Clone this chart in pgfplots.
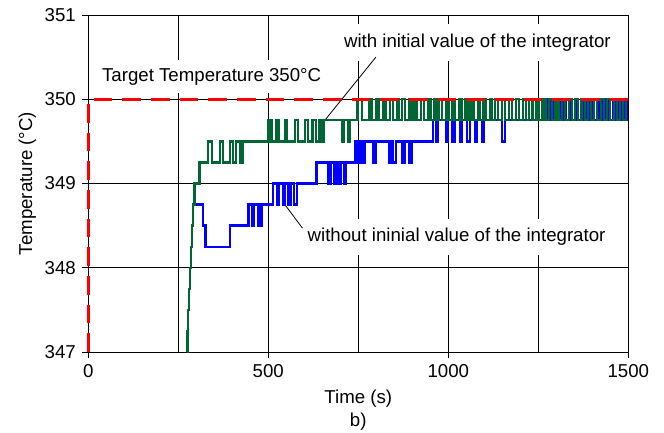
\documentclass[border=0pt]{standalone}
\usepackage{fontspec}
\setmainfont{Liberation Sans}
\usepackage{pgfplots}
\pgfplotsset{compat=1.18}
\definecolor{dgreen}{RGB}{0,102,51}
\definecolor{dblue}{RGB}{0,0,255}
\begin{document}
\fontsize{14}{16.8}\selectfont
\begin{tikzpicture}
\useasboundingbox (-66.2pt,-60pt) rectangle (431.8pt,264pt);
\begin{axis}[
 scale only axis, width=405pt, height=252.75pt,
 xmin=0,xmax=1500,ymin=347,ymax=351,
 xtick={0,500,1000,1500}, minor xtick={250,750,1250},
 ytick={347,348,349,350,351},
 grid=both,
 major grid style={black, line width=0.6pt},
 minor grid style={black, line width=0.6pt},
 axis line style={black, line width=0.6pt},
 tick align=outside, xtick pos=bottom, ytick pos=left,
 major tick length=4.5pt, minor tick length=0pt,
 tick style={black, line width=0.6pt},
 /pgf/number format/assume math mode=true,
 /pgf/number format/1000 sep={},
 tick label style={font=\fontsize{14}{16.8}\selectfont},
 label style={font=\fontsize{14}{16.8}\selectfont},
 xlabel={Time (s)\\b)}, xlabel style={align=center},
 ylabel={Temperature (°C)}, ylabel style={yshift=-3pt},
 clip=false,
]
\node[fill=white, inner xsep=2pt, minimum height=25pt] at (axis cs:342.7,350.27) {Target Temperature 350°C};
\node[fill=white, inner xsep=2pt, minimum height=27.75pt] at (axis cs:1081,350.674) {with initial value of the integrator};
\node[fill=white, inner xsep=2pt, minimum height=27pt] at (axis cs:1023,348.365) {without ininial value of the integrator};
\draw[black, line width=0.6pt] (axis cs:657,349.75) -- (axis cs:799,350.5);
\draw[black, line width=0.6pt] (axis cs:546,348.75) -- (axis cs:595,348.47);
% blue: without initial value
\addplot[const plot, dblue, line width=1.7pt] coordinates {
(273,347) (275.5,347.25) (278,347.5) (280.5,347.75) (283,348) (285.5,348.25) (288,348.5) (290.5,348.75)
(318,348.5) (326,348.25) (394,348.5) (445,348.75) (455,348.5) (461,348.75) (473,348.5) (481,348.75)
(514,349) (524,348.75) (530,349) (540,348.75) (546,349) (556,348.75) (562,349) (572,348.75) (580,349)
(634,349.25) (667,349) (673,349.25) (684,349) (690,349.25) (698,349) (703,349.25) (710,349) (716,349.25)
(740,349.5) (748,349.25) (754,349.5) (762,349.25) (768,349.5) (790,349.25) (798,349.5) (836,349.25) (842,349.5)
(847,349.25) (854,349.5) (873,349.25) (880,349.5) (891,349.25) (898,349.5)
(958,349.75) (966,349.5) (972,349.75) (993,349.5) (1000,349.75) (1012,349.5) (1018,349.75) (1032,349.5) (1037,349.75)
(1053,349.5) (1060,349.75) (1074,349.5) (1079,349.75) (1095,349.5) (1100,349.75) (1149,349.5) (1157,349.75)
(1246,350) (1253,349.75) (1262,350) (1268,349.75) (1276,350) (1284,349.75) (1292,350) (1298,349.75)
(1306,350) (1313,349.75) (1322,350) (1328,349.75) (1337,350) (1344,349.75) (1352,350) (1358,349.75)
(1368,350) (1375,349.75) (1383,350) (1390,349.75) (1398,350) (1404,349.75) (1413,350) (1420,349.75)
(1428,350) (1435,349.75) (1444,350) (1450,349.75) (1458,350) (1465,349.75) (1474,350) (1480,349.75)
(1488,350) (1495,349.75) (1500,349.75)
};
% green: with initial value
\addplot[const plot, dgreen, line width=1.7pt] coordinates {
(273,347) (275.5,347.25) (278,347.5) (280.5,347.75) (283,348) (285.5,348.25) (288,348.5) (290.5,348.75)
(295,349) (309,349.25) (333,349.5) (343,349.25) (366,349.5) (374,349.25) (394,349.5) (402,349.25)
(410,349.5) (423,349.25) (429,349.5)
(501,349.75) (509,349.5) (523,349.75) (530,349.5) (546,349.75) (553,349.5) (574,349.75) (583,349.5)
(602,349.75) (611,349.5) (623,349.75) (632,349.5) (641,349.75) (648,349.5) (655,349.75) (705,349.5)
(710,349.75) (722,349.5) (728,349.75)
(748,350) (760,349.75) (780,350) (787,349.75) (800,350) (806,349.75) (818,350) (826,349.75)
(838,350) (846,349.75) (858,350) (864,349.75) (872,350) (880,349.75) (892,350) (898,349.75)
(905,350) (912,349.75) (925,350) (933,349.75) (945,350) (952,349.75) (962,350) (968,349.75)
(975,350) (983,349.75) (995,350) (1002,349.75) (1012,350) (1018,349.75) (1030,350) (1037,349.75)
(1048,350) (1054,349.75) (1062,350) (1070,349.75) (1082,350) (1088,349.75) (1098,350) (1105,349.75)
(1115,350) (1121,349.75) (1130,350) (1139,349.75) (1150,350) (1158,349.75) (1168,350) (1177,349.75)
(1188,350) (1196,349.75) (1207,350) (1215,349.75) (1225,350) (1234,349.75) (1245,350) (1252,349.75)
(1262,350) (1270,349.75) (1280,350) (1289,349.75) (1298,350) (1306,349.75) (1316,350) (1324,349.75)
(1335,350) (1343,349.75) (1352,350) (1360,349.75) (1370,350) (1379,349.75) (1388,350) (1396,349.75)
(1405,350) (1414,349.75) (1424,350) (1432,349.75) (1441,350) (1449,349.75) (1460,350) (1468,349.75)
(1478,350) (1486,349.75) (1494,350) (1500,350)
};
% target
\addplot[color=red, solid, line width=2.2pt, dash pattern=on 14pt off 7.5pt] coordinates {(0,347) (0,350) (1500,350)};
\end{axis}
\end{tikzpicture}
\end{document}
